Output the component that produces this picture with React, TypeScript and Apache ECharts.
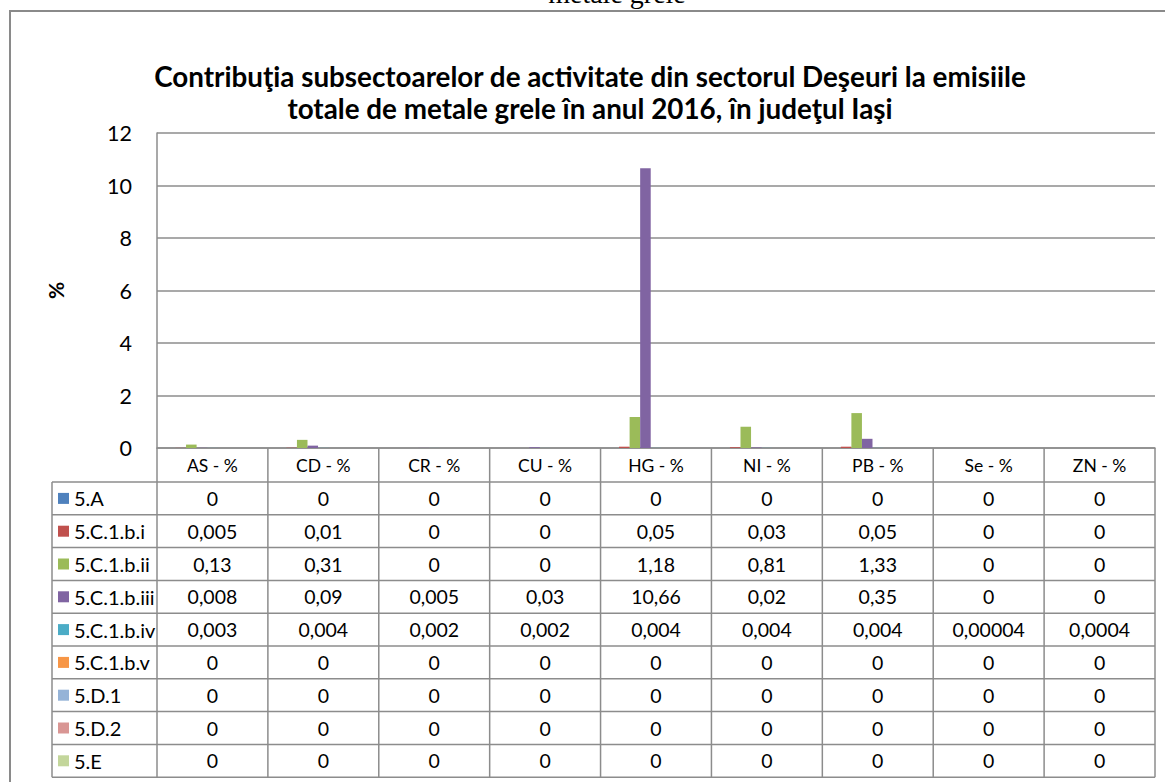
import React, { useEffect, useRef } from "react";
import * as echarts from "echarts";

const categories = ["AS - %", "CD - %", "CR - %", "CU - %", "HG - %", "NI - %", "PB - %", "Se - %", "ZN - %"];
const seriesNames = ["5.A", "5.C.1.b.i", "5.C.1.b.ii", "5.C.1.b.iii", "5.C.1.b.iv", "5.C.1.b.v", "5.D.1", "5.D.2", "5.E"];
const v5A = [0, 0, 0, 0, 0, 0, 0, 0, 0];
const v5C1bi = [0.005, 0.01, 0, 0, 0.05, 0.03, 0.05, 0, 0];
const v5C1bii = [0.13, 0.31, 0, 0, 1.18, 0.81, 1.33, 0, 0];
const v5C1biii = [0.008, 0.09, 0.005, 0.03, 10.66, 0.02, 0.35, 0, 0];
const v5C1biv = [0.003, 0.004, 0.002, 0.002, 0.004, 0.004, 0.004, 0.00004, 0.0004];
const v5C1bv = [0, 0, 0, 0, 0, 0, 0, 0, 0];
const v5D1 = [0, 0, 0, 0, 0, 0, 0, 0, 0];
const v5D2 = [0, 0, 0, 0, 0, 0, 0, 0, 0];
const v5E = [0, 0, 0, 0, 0, 0, 0, 0, 0];
const seriesValues = [v5A, v5C1bi, v5C1bii, v5C1biii, v5C1biv, v5C1bv, v5D1, v5D2, v5E];
const colors = ["#4F81BD", "#C0504D", "#9BBB59", "#8064A2", "#4BACC6", "#F79646", "#95B3D7", "#D99694", "#C3D69B"];
const yTicks = { min: 0, max: 12, interval: 2 };

const W = 1165;
const H = 782;
const GL = 157;
const GR = 1155;
const GT = 133;
const GB = 448;
const HEADER_H = 34;
const ROW_H = 32.8;
const LEG_L = 52;
const LINE = "#8c8c8c";
const FONT = "Lato, 'Open Sans', sans-serif";

const fmt = (v: number) => String(v).replace(".", ",");

export default function App() {
  const ref = useRef<HTMLDivElement>(null);
  useEffect(() => {
    document.body.style.margin = "0";
    const chart = echarts.init(ref.current!, null, { renderer: "svg" });
    const cw = (GR - GL) / categories.length;
    const rowTop = GB + HEADER_H;
    const tableBottom = rowTop + ROW_H * seriesNames.length;
    const graphics: any[] = [];
    graphics.push({
      type: "rect",
      shape: { x: 10, y: 11, width: 1200, height: 800 },
      style: { fill: "none", stroke: "#8a8a8a", lineWidth: 2 },
      z: 0,
    });
    graphics.push({
      type: "text",
      x: 617,
      y: 7,
      style: {
        text: "metale grele",
        font: "28px 'Liberation Serif', 'Times New Roman', serif",
        fill: "#000",
        align: "center",
        verticalAlign: "bottom",
      },
    });
    for (let i = 0; i <= seriesNames.length; i++) {
      const y = rowTop + i * ROW_H;
      graphics.push({
        type: "line",
        shape: { x1: LEG_L, y1: y, x2: GR, y2: y },
        style: { stroke: LINE, lineWidth: 1.5 },
      });
    }
    graphics.push({
      type: "line",
      shape: { x1: LEG_L, y1: rowTop, x2: LEG_L, y2: tableBottom },
      style: { stroke: LINE, lineWidth: 1.5 },
    });
    for (let j = 0; j <= categories.length; j++) {
      const x = GL + j * cw;
      graphics.push({
        type: "line",
        shape: { x1: x, y1: GB, x2: x, y2: tableBottom },
        style: { stroke: LINE, lineWidth: 1.5 },
      });
    }
    seriesNames.forEach((name, i) => {
      const cy = rowTop + i * ROW_H + ROW_H / 2;
      graphics.push({
        type: "rect",
        shape: { x: LEG_L + 6, y: cy - 5.5, width: 11, height: 11 },
        style: { fill: colors[i] },
      });
      graphics.push({
        type: "text",
        x: LEG_L + 22,
        y: cy,
        style: { text: name, font: `20px ${FONT}`, fill: "#000", verticalAlign: "middle", align: "left" },
      });
      seriesValues[i].forEach((v, j) => {
        graphics.push({
          type: "text",
          x: GL + (j + 0.5) * cw,
          y: cy,
          style: { text: fmt(v), font: `19.5px ${FONT}`, fill: "#000", verticalAlign: "middle", align: "center" },
        });
      });
    });

    chart.setOption({
      animation: false,
      backgroundColor: "#fff",
      textStyle: { fontFamily: FONT },
      title: {
        text: "Contribuţia subsectoarelor de activitate din sectorul Deşeuri la emisiile\ntotale de metale grele în anul 2016, în judeţul Iaşi",
        left: 585,
        top: 55,
        textAlign: "center",
        textStyle: { fontSize: 27.8, fontWeight: "bold", color: "#000", lineHeight: 32, fontFamily: FONT },
      },
      grid: { left: GL, right: W - GR, top: GT, bottom: H - GB, containLabel: false },
      xAxis: {
        type: "category",
        data: categories,
        axisLine: { show: true, lineStyle: { color: LINE, width: 1.5 } },
        axisTick: { show: false },
        axisLabel: { color: "#000", fontSize: 17.5, margin: 8, fontFamily: FONT },
        splitLine: { show: false },
      },
      yAxis: {
        type: "value",
        min: yTicks.min,
        max: yTicks.max,
        interval: yTicks.interval,
        name: "%",
        nameLocation: "middle",
        nameGap: 91,
        nameRotate: 90,
        nameTextStyle: { fontSize: 21, fontWeight: "bold", color: "#000", fontFamily: FONT },
        axisLine: { show: true, lineStyle: { color: LINE, width: 1.5 } },
        axisTick: { show: false },
        axisLabel: { color: "#000", fontSize: 21.5, margin: 25, fontFamily: FONT },
        splitLine: { show: true, lineStyle: { color: LINE, width: 1.5 } },
      },
      series: seriesNames.map((name, i) => ({
        name,
        type: "bar",
        data: seriesValues[i],
        barGap: "0%",
        barCategoryGap: "14.3%",
        itemStyle: { color: colors[i] },
      })),
      graphic: graphics,
    });
    return () => chart.dispose();
  }, []);
  return <div ref={ref} style={{ width: W, height: H }} />;
}
